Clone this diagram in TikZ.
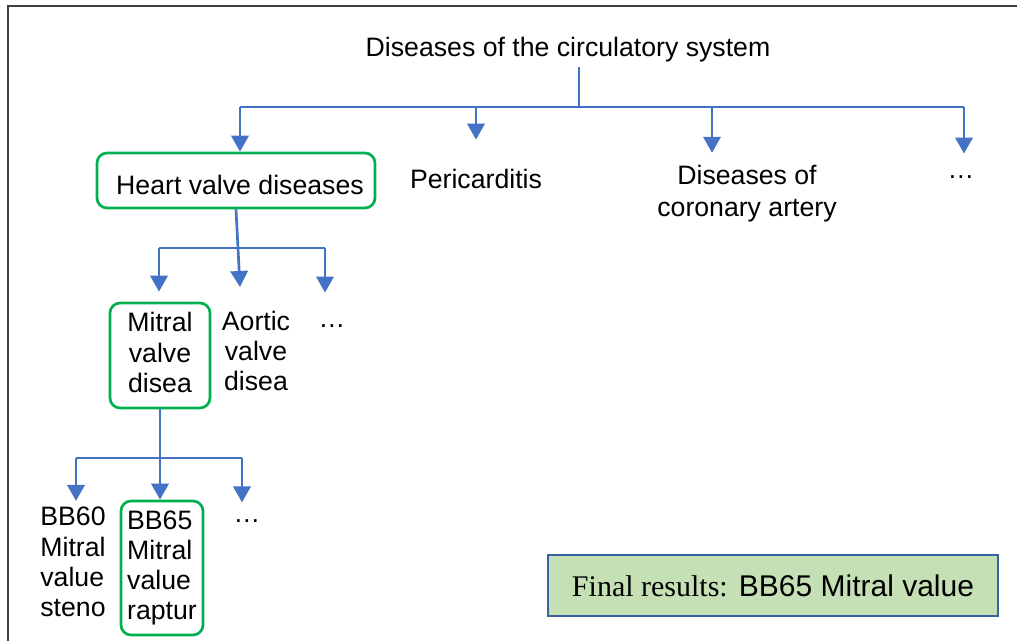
\documentclass[tikz,border=0pt]{standalone}
\usepackage{fontspec}
\setmainfont{Liberation Sans}
\newfontfamily\timesfont{Liberation Serif}
\usetikzlibrary{arrows.meta}
\definecolor{linkblue}{HTML}{4472C4}
\definecolor{boxgreen}{HTML}{00B050}
\definecolor{resfill}{HTML}{C5E0B4}
\definecolor{resline}{HTML}{3A62A0}
\definecolor{framegray}{HTML}{404040}
\begin{document}
\begin{tikzpicture}[x=0.75pt,y=-0.75pt,
  lbl/.style={inner sep=0pt, font=\fontsize{20}{22.7}\selectfont, align=center},
  pick/.style={draw=boxgreen, line width=2pt, rounded corners=7.5pt},
  bar/.style={draw=linkblue, line width=1.5pt},
  arr/.style={draw=linkblue, line width=2pt, -{Triangle[width=13pt,length=12pt]}},
]
\useasboundingbox (0,0) rectangle (1017,641);
% frame edges
\draw[framegray, line width=1.5pt] (1017,6) -- (8,6) -- (8,641);

% top level
\node[lbl] (root) at (568,50) {Diseases of the circulatory system};
\node[lbl, pick, minimum width=278*0.75pt, minimum height=55*0.75pt] (heart) at (236,180.5)
  {\hspace{6pt}\rule{0pt}{20.6pt}Heart valve diseases};
\node[lbl] (peri) at (476,179) {Pericarditis};
\node[lbl, font=\fontsize{20}{24}\selectfont] (coron) at (747,193.5) {Diseases of\\coronary artery};
\node[lbl] (more1) at (961,177) {…};

% second level
\node[lbl, pick, minimum width=100*0.75pt, minimum height=105*0.75pt] (mitral) at (160,355.5)
  {Mitral\\valve\\disea\rule[-4.5pt]{0pt}{0pt}};
\node[lbl] (aortic) at (256,351) {Aortic\\valve\\disea};
\node[lbl] (more2) at (332,326) {…};

% third level
\node[lbl, align=left] (bb60) at (73,562) {BB60\\Mitral\\value\\steno};
\node[lbl, pick, align=left, minimum width=82*0.75pt, minimum height=134*0.75pt] (bb65) at (162,568)
  {BB65\\Mitral\\value\\raptur\rule[-4pt]{0pt}{0pt}};
\node[lbl] (more3) at (247,521) {…};

% result
\node[draw=resline, fill=resfill, line width=1.5pt, inner sep=0pt,
      minimum width=450*0.75pt, minimum height=61*0.75pt,
      font=\fontsize{22.5}{26}\selectfont] (final) at (773,585.5)
      {{\timesfont Final results:} BB65 Mitral value};

% connectors, level 1
\coordinate (hub) at (579,107);
\coordinate (b1l) at (240,107);
\coordinate (b1r) at (964,107);
\coordinate (c3) at (712,107);
\draw[linkblue, line width=1.2pt, shorten <=3pt] (root.south -| hub) -- (hub);
\draw[bar, line width=1.2pt] (b1l) -- (b1r);
\draw[arr] (b1l) -- (heart.north -| b1l);
\draw[arr, shorten >=22pt] (peri.north |- b1l) -- (peri.north);
\draw[arr, shorten >=9pt] (c3) -- (c3 |- coron.north);
\draw[arr, shorten >=16.3pt] (b1r) -- (b1r |- more1.north);

% connectors, level 2
\coordinate (b2l) at (159,248.5);
\coordinate (b2r) at (325,248.5);
\coordinate (t2) at (240,287);
\draw[bar] (b2l) -- (b2r);
\draw[arr] (heart.south) -- (t2);
\draw[arr, shorten >=7.5pt] (b2l) -- (b2l |- mitral.north);
\draw[arr, shorten >=23.8pt] (b2r) -- (b2r |- more2.north);

% connectors, level 3
\coordinate (b3l) at (76,458);
\coordinate (b3r) at (242,458);
\draw[bar] (b3l) -- (b3r);
\draw[arr] (mitral.south) -- (mitral.south |- bb65.north);
\draw[arr, shorten >=4.5pt] (b3l) -- (b3l |- bb60.north);
\draw[arr, shorten >=12.7pt] (b3r) -- (b3r |- more3.north);
\end{tikzpicture}
\end{document}
